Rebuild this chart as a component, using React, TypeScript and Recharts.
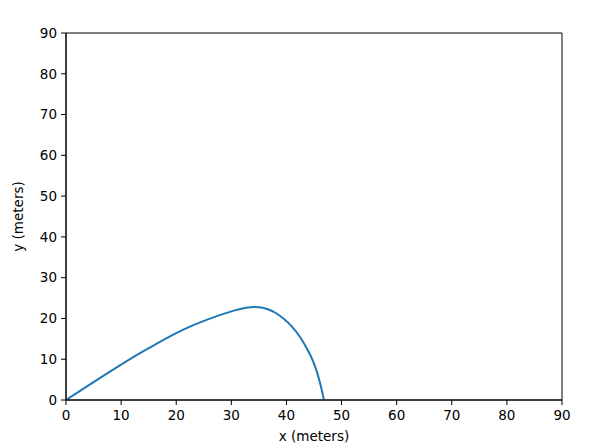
import React from "react";
import { LineChart, Line, XAxis, YAxis, ReferenceArea, Label } from "recharts";

const xValues = [0, 5, 10, 15, 20, 23, 26, 29, 31, 33, 34, 35, 36.5, 38, 39.5, 41, 42.5, 43.8, 44.8, 45.6, 46.2, 46.8];
const yValues = [0, 4.4, 8.7, 12.7, 16.4, 18.3, 19.9, 21.3, 22.1, 22.7, 22.8, 22.75, 22.3, 21.4, 19.9, 18.0, 15.4, 12.4, 9.6, 6.6, 3.6, 0];
const xTicks = [0, 10, 20, 30, 40, 50, 60, 70, 80, 90];
const yTicks = [0, 10, 20, 30, 40, 50, 60, 70, 80, 90];

const data = xValues.map((x, i) => ({ x, y: yValues[i] }));

const font = "DejaVu Sans, sans-serif";
const tickStyle = { fill: "#000", fontSize: 13.5, fontFamily: font };

export default function App() {
  return (
    <div style={{ position: "absolute", left: 0, top: 0, background: "#fff" }}>
      <LineChart
        width={589}
        height={447}
        data={data}
        margin={{ top: 33, right: 27, bottom: 17, left: 26 }}
      >
        <XAxis
          dataKey="x"
          type="number"
          domain={[0, 90]}
          ticks={xTicks}
          interval={0}
          allowDataOverflow
          height={30}
          stroke="#000"
          tick={tickStyle}
          tickSize={5}
          tickMargin={5}
        >
          <Label value="x (meters)" position="bottom" offset={1} style={{ fill: "#000", fontSize: 13.5, fontFamily: font }} />
        </XAxis>
        <YAxis
          type="number"
          domain={[0, 90]}
          ticks={yTicks}
          interval={0}
          allowDataOverflow
          width={40}
          stroke="#000"
          tick={tickStyle}
          tickSize={5}
          tickMargin={4}
        >
          <Label value="y (meters)" angle={-90} position="left" offset={8} style={{ fill: "#000", fontSize: 13.5, fontFamily: font, textAnchor: "middle" }} />
        </YAxis>
        <ReferenceArea x1={0} x2={90} y1={0} y2={90} fill="none" stroke="#000" strokeWidth={1} ifOverflow="visible" />
        <Line
          type="monotone"
          dataKey="y"
          stroke="#1f77b4"
          strokeWidth={2}
          dot={false}
          isAnimationActive={false}
        />
      </LineChart>
    </div>
  );
}
